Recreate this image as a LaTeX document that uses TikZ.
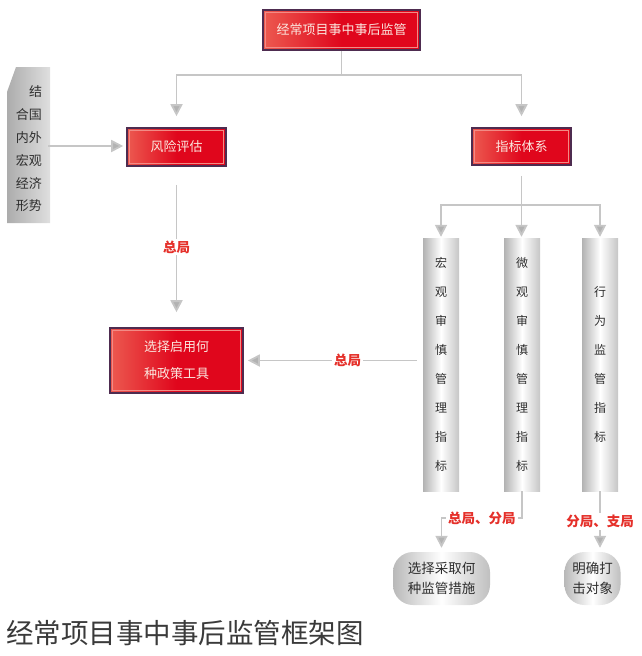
\documentclass[tikz,border=0pt]{standalone}
\usepackage{fontspec}
\newfontfamily\cjk{Noto Sans CJK SC}
\usetikzlibrary{arrows.meta,calc}
\definecolor{boxred}{HTML}{E0061C}
\definecolor{boxredlight}{HTML}{EC5A50}
\definecolor{boxborder}{HTML}{4E2C50}
\definecolor{linegray}{HTML}{C6C6C6}
\definecolor{lblred}{HTML}{E5302A}
\definecolor{txtdark}{HTML}{2E2E2E}
\definecolor{titlegray}{HTML}{3A3A3A}
\definecolor{boxtext}{HTML}{FBE6DE}
\begin{document}
\begin{tikzpicture}[x=1pt,y=-1pt,
  redbox/.style={draw=boxborder, line width=1.6pt, left color=boxredlight, right color=boxred, middle color=boxred,
    text=boxtext, font=\cjk\fontsize{13}{27}\selectfont, align=center, inner sep=0pt,
    path picture={\draw[boxredlight!70!white, line width=0.7pt]
      ([shift={(2.5pt,-2.5pt)}]path picture bounding box.north west) rectangle
      ([shift={(-2.5pt,2.5pt)}]path picture bounding box.south east);}},
  colbar/.style={minimum width=36pt, minimum height=253pt, inner sep=0pt,
    left color=gray!60, right color=gray!45, middle color=white,
    font=\cjk\fontsize{12}{29}\selectfont, text=txtdark, align=center},
  pill/.style={rounded corners=20pt, inner sep=0pt, minimum height=53pt,
    left color=gray!55, right color=gray!50, middle color=white,
    font=\cjk\fontsize{13.5}{20}\selectfont, text=txtdark, align=center},
  lbl/.style={font=\cjk\bfseries\fontsize{13.5}{15}\selectfont, text=lblred, fill=white, inner sep=2pt},
  arr/.style={draw=linegray, line width=1.8pt, -{Triangle[width=12pt,length=12pt,fill=linegray!90!black]}},
  plain/.style={draw=linegray, line width=1.8pt}
]
\useasboundingbox (0,0) rectangle (641,656);

% boxes
\node[redbox, minimum width=157pt, minimum height=40pt] (top) at (341.5,30) {经常项目事中事后监管};
\node[redbox, minimum width=99pt, minimum height=38pt] (risk) at (176.5,147) {风险评估};
\node[redbox, minimum width=99pt, minimum height=37pt] (index) at (521.5,146.5) {指标体系};
\node[redbox, minimum width=133pt, minimum height=65pt] (tool) at (176.5,360.5) {选择启用何\\种政策工具};

% left beveled shape
\shade[left color=gray!65, middle color=white, right color=gray!25]
  (7,92) -- (16,67) -- (50,67) -- (50,223) -- (7,223) -- cycle;
\node[font=\cjk\fontsize{13}{22.8}\selectfont, text=txtdark, align=right, text width=27pt, inner sep=0pt]
  (macro) at (28.5,149) {结\\合国\\内外\\宏观\\经济\\形势};
\coordinate (macroout) at (48,146);

% columns
\node[colbar] (c1) at (441,364.5) {宏\\观\\审\\慎\\管\\理\\指\\标};
\node[colbar] (c2) at (522,364.5) {微\\观\\审\\慎\\管\\理\\指\\标};
\node[colbar] (c3) at (600,364.5) {行\\为\\监\\管\\指\\标};

% pills
\node[pill, minimum width=97pt] (p1) at (441.5,578.5) {选择采取何\\种监管措施};
\node[pill, minimum width=56pt] (p2) at (592.5,578.5) {明确打\\击对象};

% title
\node[anchor=west, font=\cjk\fontsize{27.5}{28}\selectfont, text=titlegray, inner sep=0pt] (title) at (6,633) {经常项目事中事后监管框架图};

% connectors
\coordinate (j1) at (341.5,75);
\draw[plain] (top.south) -- (j1);
\draw[arr, shorten >=11pt] (j1) -| (risk.north);
\draw[arr, shorten >=11pt] (j1) -| (index.north);

\draw[arr, shorten >=3pt] (macroout) -- (macroout -| risk.west);

\draw[arr, shorten <=18pt, shorten >=15pt] (risk.south) -- node[lbl, pos=0.5]{总局} (tool.north);

\coordinate (j2) at (521.5,205);
\draw[plain, shorten <=10pt] (index.south) -- (j2);
\draw[arr, shorten >=1pt] (j2) -| (c1.north);
\draw[arr, shorten >=1pt] (j2) -| (c3.north);
\draw[arr, shorten >=1pt] (j2) -- (j2 |- c2.north);

\draw[arr, shorten <=6pt, shorten >=4pt] (tool.east -| c1.west) -- node[lbl, pos=0.42]{总局} (tool.east);

\coordinate (k2) at ($(c2.south)+(0,27)$);
\draw[arr, shorten >=4pt] (c2.south) -- (k2) -- node[lbl]{总局、分局} (k2 -| p1.north) -- (p1.north);
\draw[arr, shorten >=4pt] (c3.south) -- node[lbl]{分局、支局} (c3.south |- p2.north);
\end{tikzpicture}
\end{document}
